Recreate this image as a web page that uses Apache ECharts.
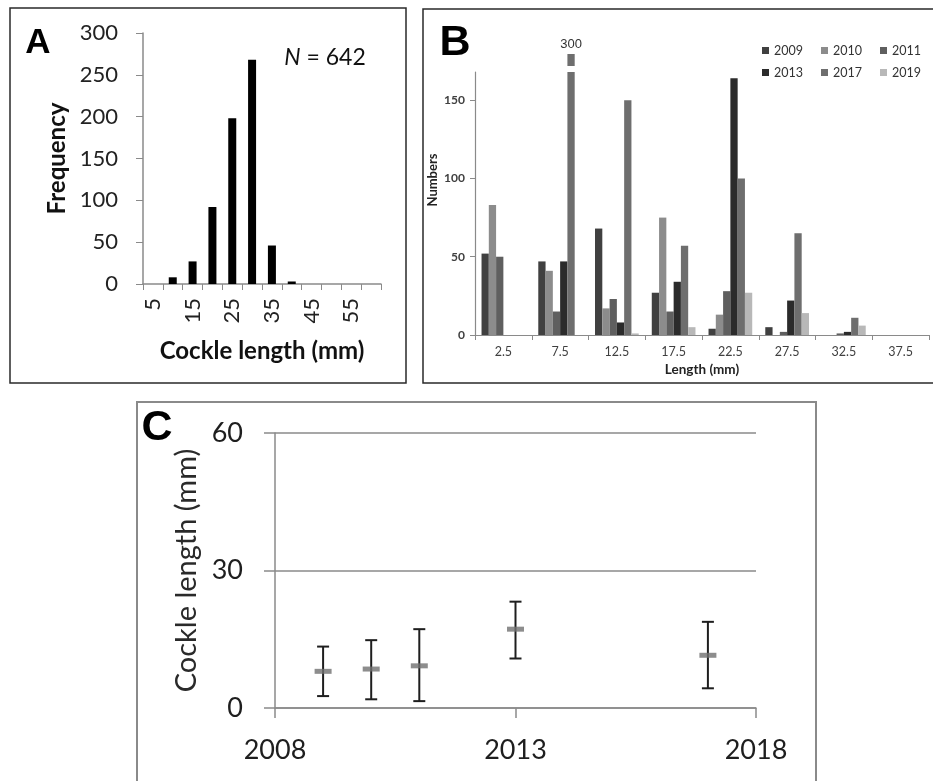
<!DOCTYPE html>
<html>
<head>
<meta charset="utf-8">
<script src="https://cdn.jsdelivr.net/npm/echarts@6/dist/echarts.min.js"></script>
<style>
html,body{margin:0;padding:0;background:#fff;}
#c{width:933px;height:781px;}
</style>
</head>
<body>
<div id="c"></div>
<script>
// ---------- Panel A data ----------
const catsA = ['5','10','15','20','25','30','35','40','45','50','55','60'];
const freqA = [0, 8, 27, 92, 198, 268, 46, 3, 0, 0, 0, 0];
const ticksAValue = [0, 50, 100, 150, 200, 250, 300];

// ---------- Panel B data ----------
const catsB = ['2.5','7.5','12.5','17.5','22.5','27.5','32.5','37.5'];
const yearsB = ['2009','2010','2011','2013','2017','2019'];
const b2009 = [52, 47, 68, 27, 4, 5, 0, 0];
const b2010 = [83, 41, 17, 75, 13, 0, 0, 0];
const b2011 = [50, 15, 23, 15, 28, 2, 1, 0];
const b2013 = [0, 47, 8, 34, 164, 22, 2, 0];
const b2017 = [0, 300, 150, 57, 100, 65, 11, 0];
const b2019 = [0, 0, 1, 5, 27, 14, 6, 0];
const ticksBValue = [0, 50, 100, 150];
const colorsB = ['#404040', '#8c8c8c', '#5f5f5f', '#2b2b2b', '#6e6e6e', '#b8b8b8'];

// ---------- Panel C data ----------
const yearsC = [2009, 2010, 2011, 2013, 2017];
const meanC = [8.0, 8.5, 9.2, 17.2, 11.5];
const lowC  = [2.6, 1.9, 1.5, 10.8, 4.3];
const highC = [13.4, 14.8, 17.2, 23.2, 18.8];

const seriesB = [b2009, b2010, b2011, b2013, b2017, b2019];

const FONT = 'Lato, "Open Sans", sans-serif';
const chart = echarts.init(document.getElementById('c'), null, {renderer: 'canvas'});

const series = [];
// Panel A
series.push({
  type: 'bar', name: 'A', xAxisIndex: 0, yAxisIndex: 0,
  data: freqA, barWidth: 8, itemStyle: {color: '#000'}, silent: true
});
// Panel B lower + upper (broken bar piece)
seriesB.forEach((arr, i) => {
  series.push({
    type: 'bar', name: yearsB[i], xAxisIndex: 1, yAxisIndex: 1,
    data: arr, barGap: '0%', barCategoryGap: '23%', clip: true,
    itemStyle: {color: colorsB[i]}, silent: true
  });
});
seriesB.forEach((arr, i) => {
  series.push({
    type: 'bar', name: yearsB[i], xAxisIndex: 2, yAxisIndex: 2,
    data: arr, barGap: '0%', barCategoryGap: '23%', clip: true,
    itemStyle: {color: colorsB[i]}, silent: true,
    label: {
      show: true, position: 'top', distance: 3,
      formatter: p => (p.value > 290 ? String(p.value) : ''),
      fontFamily: 'Arial, "Liberation Sans", sans-serif', fontSize: 13, color: '#333'
    }
  });
});
// Panel C error bars
series.push({
  type: 'custom', name: 'C-err', xAxisIndex: 3, yAxisIndex: 3, silent: true,
  data: yearsC.map((y, i) => [y, lowC[i], highC[i]]),
  renderItem: function (params, api) {
    const x = api.value(0);
    const lo = api.coord([x, api.value(1)]);
    const hi = api.coord([x, api.value(2)]);
    const cw = 6;
    const st = {stroke: '#1e1e1e', lineWidth: 2};
    return {
      type: 'group',
      children: [
        {type: 'line', shape: {x1: lo[0], y1: lo[1], x2: hi[0], y2: hi[1]}, style: st},
        {type: 'line', shape: {x1: lo[0] - cw, y1: lo[1], x2: lo[0] + cw, y2: lo[1]}, style: st},
        {type: 'line', shape: {x1: hi[0] - cw, y1: hi[1], x2: hi[0] + cw, y2: hi[1]}, style: st}
      ]
    };
  },
  z: 3
});
series.push({
  type: 'scatter', name: 'C-mean', xAxisIndex: 3, yAxisIndex: 3, silent: true,
  data: yearsC.map((y, i) => [y, meanC[i]]),
  symbol: 'rect', symbolSize: [17, 5], itemStyle: {color: '#707070'}, z: 4
});

const option = {
  animation: false,
  backgroundColor: '#fff',
  textStyle: {fontFamily: FONT},
  grid: [
    {left: 143, top: 33, width: 238, height: 251},
    {left: 475, top: 72, width: 454, height: 263},
    {left: 475, top: 54, width: 454, height: 12},
    {left: 275, top: 433, width: 481, height: 275}
  ],
  xAxis: [
    {
      type: 'category', gridIndex: 0, data: catsA, boundaryGap: true,
      axisLine: {lineStyle: {color: '#8a8a8a', width: 1.5}},
      axisTick: {show: true, interval: 0, length: 6, lineStyle: {color: '#8a8a8a'}},
      axisLabel: {interval: 1, rotate: 90, margin: 14, fontSize: 22, color: '#222', fontFamily: FONT},
      name: 'Cockle length (mm)', nameLocation: 'middle', nameGap: 55,
      nameTextStyle: {fontSize: 24, fontWeight: 'bold', color: '#111', fontFamily: FONT}
    },
    {
      type: 'category', gridIndex: 1, data: catsB, boundaryGap: true,
      axisLine: {lineStyle: {color: '#8a8a8a', width: 1.2}},
      axisTick: {show: true, interval: 0, length: 5, lineStyle: {color: '#8a8a8a'}},
      axisLabel: {interval: 0, margin: 10, fontSize: 12.5, color: '#404040', fontFamily: FONT},
      name: 'Length (mm)', nameLocation: 'middle', nameGap: 28,
      nameTextStyle: {fontSize: 13.5, fontWeight: 'bold', color: '#222', fontFamily: FONT}
    },
    {
      type: 'category', gridIndex: 2, data: catsB, boundaryGap: true, show: false
    },
    {
      type: 'value', gridIndex: 3, min: 2008, max: 2018, interval: 5,
      axisLine: {show: true, lineStyle: {color: '#8a8a8a', width: 1.5}},
      axisTick: {show: true, length: 10, lineStyle: {color: '#8a8a8a', width: 1.5}},
      splitLine: {show: false},
      axisLabel: {margin: 29, fontSize: 27, color: '#1e1e1e', fontFamily: FONT, formatter: v => String(v)}
    }
  ],
  yAxis: [
    {
      type: 'value', gridIndex: 0, min: 0, max: 300, interval: 50,
      axisLine: {show: true, lineStyle: {color: '#8a8a8a', width: 1.5}},
      axisTick: {show: true, length: 7, lineStyle: {color: '#8a8a8a'}},
      splitLine: {show: false},
      axisLabel: {margin: 25, fontSize: 22, color: '#222', fontFamily: FONT},
      name: 'Frequency', nameLocation: 'middle', nameGap: 74, nameRotate: 90,
      nameTextStyle: {fontSize: 24, fontWeight: 'bold', color: '#111', fontFamily: FONT}
    },
    {
      type: 'value', gridIndex: 1, min: 0, max: 168,
      axisLine: {show: true, lineStyle: {color: '#8a8a8a', width: 1.2}},
      axisTick: {show: true, length: 5, customValues: ticksBValue, lineStyle: {color: '#8a8a8a'}},
      splitLine: {show: false},
      axisLabel: {customValues: ticksBValue, margin: 10, fontSize: 12, fontWeight: 'bold', color: '#404040', fontFamily: FONT}
    },
    {
      type: 'value', gridIndex: 2, min: 290, max: 300, show: false
    },
    {
      type: 'value', gridIndex: 3, min: 0, max: 60, interval: 30,
      axisLine: {show: true, lineStyle: {color: '#8a8a8a', width: 1.5}},
      axisTick: {show: true, length: 11, lineStyle: {color: '#8a8a8a', width: 1.5}},
      splitLine: {show: true, lineStyle: {color: '#8a8a8a', width: 1.5}},
      axisLabel: {margin: 32, fontSize: 27, color: '#1e1e1e', fontFamily: FONT},
      name: 'Cockle length (mm)', nameLocation: 'middle', nameGap: 72, nameRotate: 90,
      nameTextStyle: {fontSize: 29, color: '#2a2a2a', fontFamily: FONT}
    }
  ],
  legend: [
    {
      data: ['2009', '2010', '2011'], left: 762, top: 44, orient: 'horizontal',
      icon: 'rect', itemWidth: 7, itemHeight: 7, itemGap: 18, padding: 0,
      selectedMode: false, textStyle: {fontSize: 12.5, color: '#333', fontFamily: FONT}
    },
    {
      data: ['2013', '2017', '2019'], left: 762, top: 66, orient: 'horizontal',
      icon: 'rect', itemWidth: 7, itemHeight: 7, itemGap: 18, padding: 0,
      selectedMode: false, textStyle: {fontSize: 12.5, color: '#333', fontFamily: FONT}
    }
  ],
  graphic: [
    {type: 'rect', shape: {x: 10, y: 8, width: 396, height: 375}, style: {fill: 'none', stroke: '#2a2a2a', lineWidth: 1.5}, silent: true},
    {type: 'rect', shape: {x: 423, y: 9, width: 530, height: 374}, style: {fill: 'none', stroke: '#2a2a2a', lineWidth: 1.5}, silent: true},
    {type: 'rect', shape: {x: 137, y: 402, width: 679, height: 420}, style: {fill: 'none', stroke: '#8a8a8a', lineWidth: 2}, silent: true},
    {type: 'text', x: 38, y: 43, style: {text: 'A', fontSize: 35, fontWeight: 'bold', fontFamily: 'Arial, "Liberation Sans", sans-serif', fill: '#000', align: 'center', verticalAlign: 'middle'}, silent: true},
    {type: 'text', x: 455, y: 43, style: {text: 'B', fontSize: 43, fontWeight: 'bold', fontFamily: 'Arial, "Liberation Sans", sans-serif', fill: '#000', align: 'center', verticalAlign: 'middle'}, silent: true},
    {type: 'text', x: 157, y: 428, style: {text: 'C', fontSize: 43, fontWeight: 'bold', fontFamily: 'Arial, "Liberation Sans", sans-serif', fill: '#000', align: 'center', verticalAlign: 'middle'}, silent: true},
    {type: 'text', x: 433, y: 180, rotation: Math.PI / 2, style: {text: 'Numbers', fontSize: 13, fontWeight: 'bold', fontFamily: FONT, fill: '#222', align: 'center', verticalAlign: 'middle'}, silent: true},
    {type: 'text', x: 325, y: 58, style: {
      text: '{i|N} = 642', align: 'center', verticalAlign: 'middle',
      fontSize: 23, fontFamily: FONT, fill: '#111',
      rich: {i: {fontStyle: 'italic', fontSize: 23, fontFamily: FONT, fill: '#111'}}
    }, silent: true}
  ],
  series: series
};
chart.setOption(option);
</script>
</body>
</html>
